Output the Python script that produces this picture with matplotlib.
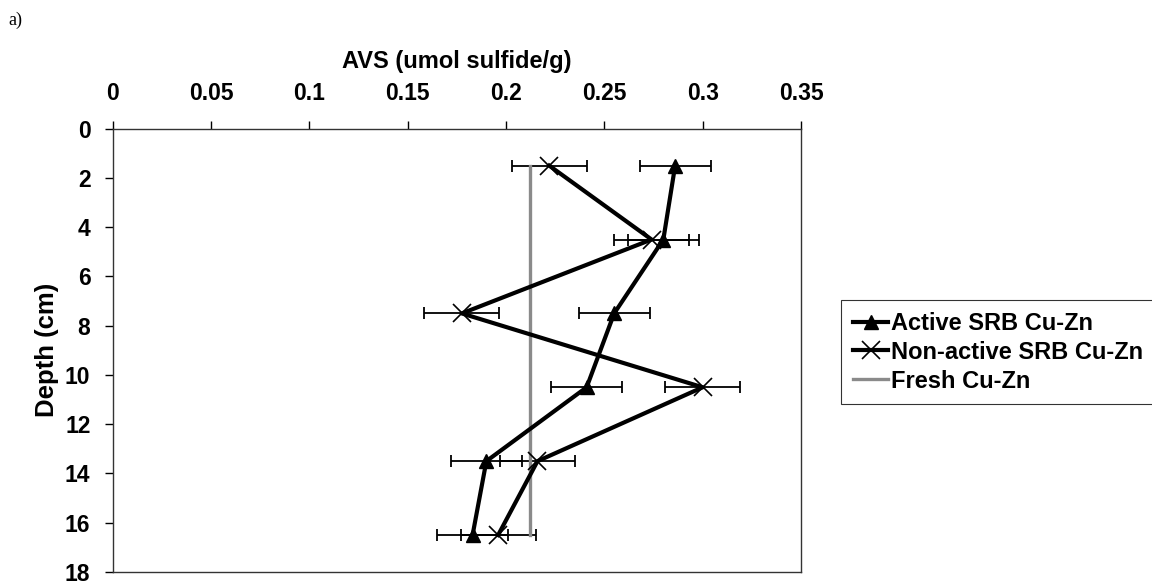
import matplotlib
matplotlib.use("Agg")
import matplotlib.pyplot as plt

plt.rcParams['font.family'] = ['Liberation Sans', 'DejaVu Sans']

depth = [1.5, 4.5, 7.5, 10.5, 13.5, 16.5]
active = [0.286, 0.280, 0.255, 0.241, 0.190, 0.183]
active_err = [0.018, 0.018, 0.018, 0.018, 0.018, 0.018]
nonactive = [0.222, 0.274, 0.1775, 0.300, 0.216, 0.196]
nonactive_err = [0.019, 0.019, 0.019, 0.019, 0.019, 0.019]
fresh = [0.212, 0.212, 0.212, 0.212, 0.212, 0.212]

xticks = [0, 0.05, 0.1, 0.15, 0.2, 0.25, 0.3, 0.35]
xtick_labels = ["0", "0.05", "0.1", "0.15", "0.2", "0.25", "0.3", "0.35"]
yticks = [0, 2, 4, 6, 8, 10, 12, 14, 16, 18]

W, H = 1152, 585
fig = plt.figure(figsize=(W / 100, H / 100), dpi=100)
ax = fig.add_axes([112.7 / W, 1 - 572 / H, (801 - 112.7) / W, (572 - 128.7) / H])

# error bars first (thin), then lines
ax.errorbar(nonactive, depth, xerr=nonactive_err, fmt='none', ecolor='black',
            elinewidth=1.3, capsize=4, capthick=1.3, zorder=2)
ax.errorbar(active, depth, xerr=active_err, fmt='none', ecolor='black',
            elinewidth=1.3, capsize=4, capthick=1.3, zorder=2)

ax.plot(fresh, depth, color='#8a8a8a', lw=2.4, label='Fresh Cu-Zn', zorder=3)
ax.plot(active, depth, color='black', lw=3, marker='^', markersize=10.5,
        label='Active SRB Cu-Zn', zorder=4)
ax.plot(nonactive, depth, color='black', lw=3, marker='x', markersize=13,
        markeredgewidth=1.2, label='Non-active SRB Cu-Zn', zorder=4)

ax.set_xlim(0, 0.35)
ax.set_ylim(18, 0)
ax.xaxis.tick_top()
ax.xaxis.set_label_position('top')
ax.set_xticks(xticks)
ax.set_xticklabels(xtick_labels)
ax.set_yticks(yticks)
ax.tick_params(axis='x', direction='out', length=6, width=1, pad=11,
               labelsize=16.5, top=True, bottom=False)
ax.tick_params(axis='y', direction='out', length=6, width=1, pad=10,
               labelsize=16.5)
for lbl in ax.get_xticklabels() + ax.get_yticklabels():
    lbl.set_fontweight('bold')

ax.set_xlabel('AVS (umol sulfide/g)', fontsize=17, fontweight='bold', labelpad=10)
ax.set_ylabel('Depth (cm)', fontsize=18.5, fontweight='bold', labelpad=4)

for s in ax.spines.values():
    s.set_color('#333333')
    s.set_linewidth(1)

handles, labels = ax.get_legend_handles_labels()
order = [1, 2, 0]
leg = fig.legend([handles[i] for i in order], [labels[i] for i in order],
                 loc='upper left', bbox_to_anchor=(841 / W, 1 - 300 / H),
                 prop={'size': 17, 'weight': 'bold'}, frameon=True,
                 fancybox=False, edgecolor='black', handlelength=1.5,
                 handletextpad=0.1, labelspacing=0.25, borderpad=0.5,
                 borderaxespad=0)
leg.get_frame().set_linewidth(0.8)

fig.text(8 / W, 1 - 20 / H, 'a)', fontsize=13, family='Liberation Serif',
         va='center', ha='left')

fig.savefig('out.png', dpi=100)
